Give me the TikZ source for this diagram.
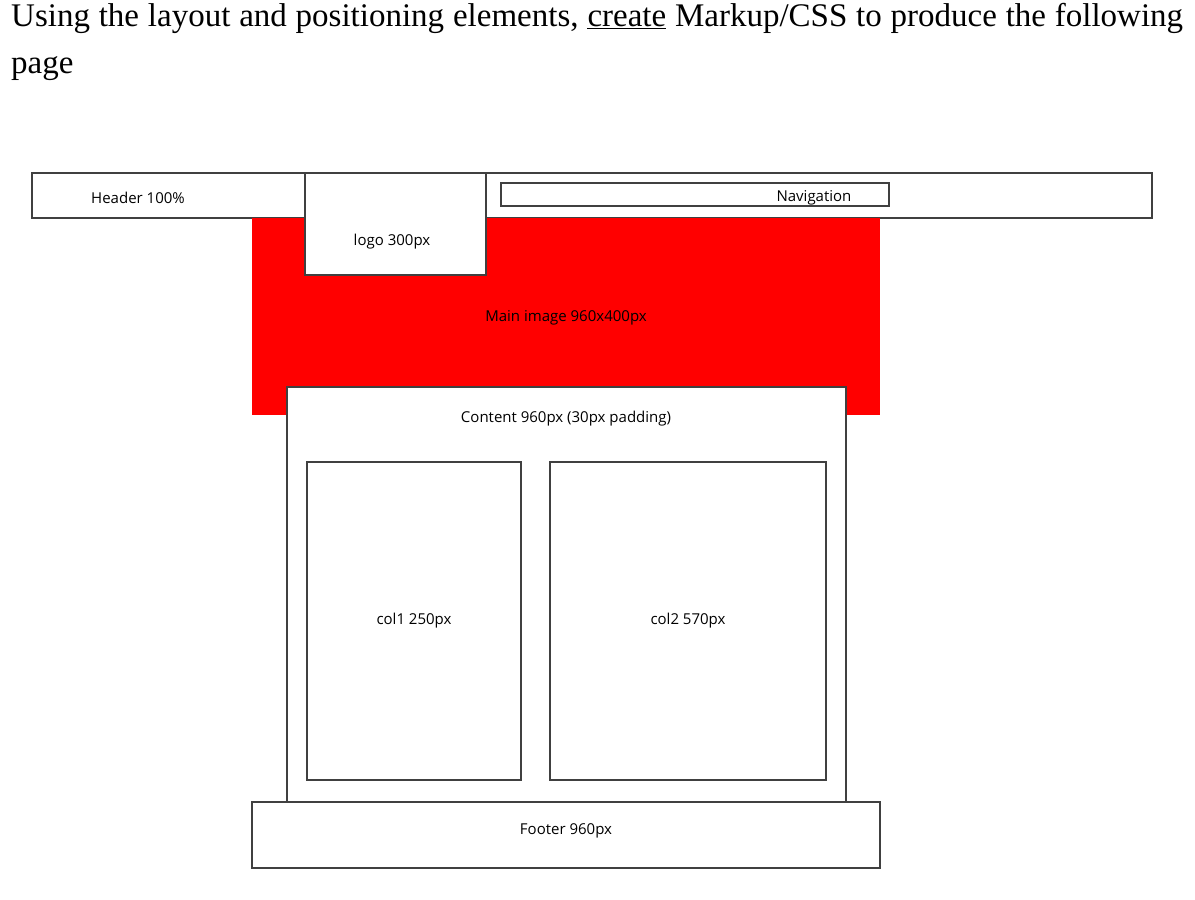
\documentclass[tikz,border=0pt]{standalone}
\usepackage{fontspec}
\setmainfont{Liberation Serif}
\newfontfamily\diag{Open Sans}
\begin{document}
\begin{tikzpicture}[x=1pt,y=-1pt,
  box/.style={draw=black!75,line width=1.2pt,fill=white},
  lbl/.style={font=\diag\fontsize{15}{17}\selectfont,inner sep=0pt}]
\useasboundingbox (0,0) rectangle (1195,900);
\node[anchor=north west,inner sep=0pt,text width=1172pt,align=justify,font=\fontsize{33}{47}\selectfont] (title) at (11,3)
 {Using the layout and positioning elements, \underline{create} Markup/CSS to produce the following page};
\draw[box] (32,173) rectangle (1152,218);
\fill[red] (252,218) rectangle (880,415);
\draw[box] (305,173) rectangle (486,275);
\draw[box] (501,183) rectangle (889,206);
\node[lbl] (nav) at (814,198) {Navigation};
\node[lbl] (hdr) at (138,198) {Header 100\%};
\node[lbl] (logo) at (392,242) {logo 300px};
\node[lbl] (main) at (566,318) {Main image 960x400px};
\draw[box] (287,387) rectangle (846,802);
\node[lbl] (content) at (566,419) {Content 960px (30px padding)};
\draw[box] (307,462) rectangle (521,780);
\node[lbl] (c1) at (414,621) {col1 250px};
\draw[box] (550,462) rectangle (826,780);
\node[lbl] (c2) at (688,621) {col2 570px};
\draw[box] (252,802) rectangle (880,868);
\node[lbl] (foot) at (566,831) {Footer 960px};
\end{tikzpicture}
\end{document}
